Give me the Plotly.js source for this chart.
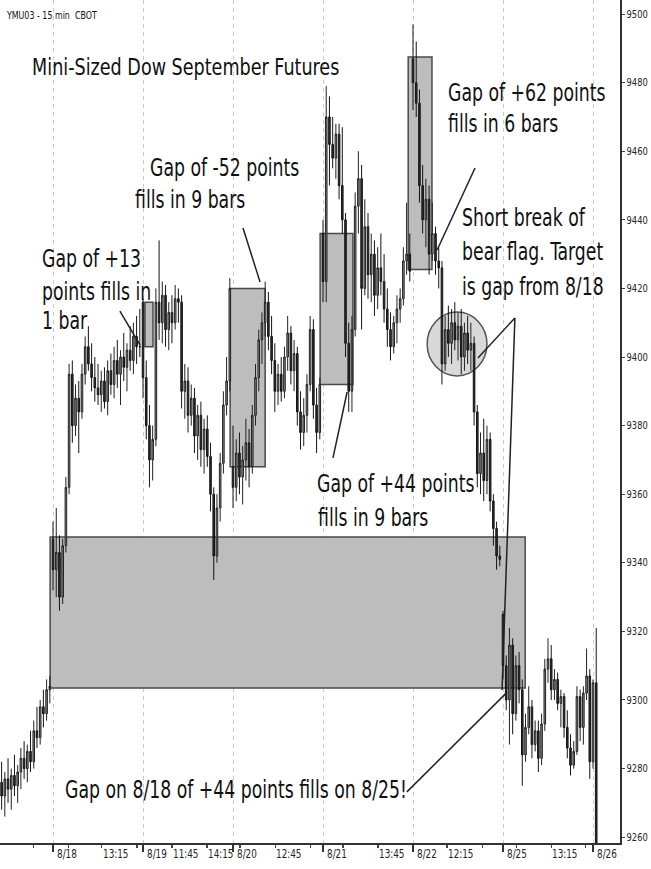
<!DOCTYPE html>
<html>
<head>
<meta charset="utf-8">
<script src="https://cdn.plot.ly/plotly-3.0.1.min.js"></script>
<style>html,body{margin:0;padding:0;background:#fff;}#chart{width:651px;height:869px;}</style>
</head>
<body>
<div id="chart"></div>
<script>
// 15-minute bars, YM U03 (mini-sized Dow), bar index 0 = first bar shown
const openP = [
9276,9272,9277,9274,9278,9275,9279,9283,9280,9285,9282,9291,9289,9298,9296,9303,
9347,9338,9343,9330,9345,9362,9395,9380,9388,9384,9395,9403,9398,9394,9391,9389,9393,9387,9396,9392,9399,9395,9400,9397,9402,9399,9406,9403,
9416,9394,9380,9370,9376,9416,9410,9418,9408,9413,9410,9417,9416,9390,9393,9383,9388,9377,9383,9373,9379,9371,9360,9342,9356,9369,9386,9393,
9368,9362,9372,9365,9370,9375,9368,9383,9394,9405,9410,9416,9406,9399,9390,9395,9390,9400,9407,9396,9401,9384,9378,9383,9392,9408,9386,9378,
9436,9422,9470,9462,9458,9465,9450,9440,9404,9390,9408,9444,9452,9420,9438,9424,9430,9418,9426,9422,9414,9408,9403,9410,9414,9417,9428,9430,
9487,9480,9474,9450,9440,9446,9430,9436,9428,9426,9398,9408,9404,9410,9405,9409,9400,9407,9402,9404,9384,9366,9372,9364,9376,9358,9350,9342,
9325,9310,9300,9316,9296,9310,9303,9284,9292,9298,9287,9291,9283,9293,9309,9312,9303,9306,9299,9301,9292,9286,9281,9285,9301,9292,9302,9307,
9282,9305];
const highP = [
9282,9279,9283,9280,9284,9281,9286,9288,9287,9291,9294,9298,9300,9303,9306,9307,
9352,9356,9348,9347,9365,9398,9399,9392,9393,9398,9406,9409,9404,9400,9398,9396,9397,9399,9401,9403,9405,9402,9407,9404,9409,9410,9412,9414,
9417,9399,9386,9380,9420,9434,9422,9421,9416,9418,9421,9420,9418,9398,9397,9392,9391,9386,9387,9382,9383,9375,9362,9360,9372,9390,9400,9423,
9380,9376,9378,9374,9382,9379,9386,9398,9408,9413,9422,9419,9412,9404,9398,9400,9403,9412,9409,9405,9403,9390,9388,9395,9412,9411,9391,9394,
9440,9479,9476,9470,9468,9468,9467,9442,9410,9412,9448,9460,9456,9446,9442,9436,9434,9432,9436,9430,9420,9413,9412,9418,9420,9432,9445,9436,
9497,9492,9478,9456,9452,9450,9445,9438,9432,9428,9412,9415,9414,9416,9413,9414,9410,9412,9410,9406,9386,9378,9382,9380,9378,9360,9352,9345,
9326,9313,9321,9318,9313,9314,9306,9296,9304,9300,9294,9294,9296,9312,9318,9316,9309,9308,9303,9302,9297,9290,9288,9304,9303,9304,9315,9309,
9306,9321];
const lowP = [
9268,9266,9270,9268,9272,9270,9274,9277,9276,9279,9280,9286,9287,9292,9294,9299,
9332,9330,9326,9328,9343,9360,9375,9377,9372,9382,9392,9396,9390,9387,9386,9384,9385,9383,9389,9388,9391,9386,9393,9390,9396,9395,9398,9400,
9388,9376,9362,9364,9374,9405,9404,9403,9402,9404,9408,9410,9385,9382,9378,9380,9372,9370,9368,9366,9368,9355,9335,9340,9352,9366,9383,9390,
9356,9358,9360,9357,9364,9362,9366,9380,9390,9398,9406,9402,9395,9384,9386,9387,9388,9396,9392,9390,9380,9373,9374,9378,9390,9382,9372,9376,
9416,9416,9450,9455,9452,9446,9436,9400,9384,9384,9406,9436,9408,9418,9417,9416,9412,9414,9418,9410,9403,9399,9401,9404,9410,9415,9424,9422,
9472,9470,9445,9436,9432,9424,9428,9424,9420,9392,9396,9400,9398,9402,9399,9395,9396,9398,9396,9380,9362,9360,9358,9360,9355,9345,9338,9339,
9306,9297,9287,9290,9294,9299,9275,9282,9290,9283,9285,9279,9281,9291,9305,9300,9300,9297,9292,9289,9283,9278,9280,9284,9288,9287,9300,9277,
9280,9250];
const closeP = [
9272,9277,9274,9278,9275,9279,9283,9280,9285,9282,9291,9289,9298,9296,9303,9304,
9338,9343,9330,9345,9362,9395,9380,9388,9384,9395,9403,9398,9394,9391,9389,9393,9387,9396,9392,9399,9395,9400,9397,9402,9399,9406,9403,9403,
9394,9380,9370,9376,9416,9410,9418,9408,9413,9410,9417,9416,9390,9393,9383,9388,9377,9383,9373,9379,9371,9360,9342,9356,9369,9386,9393,9420,
9362,9372,9365,9370,9375,9368,9383,9394,9405,9410,9416,9406,9399,9390,9395,9390,9400,9407,9396,9401,9384,9378,9383,9392,9408,9386,9378,9392,
9422,9470,9462,9458,9465,9450,9440,9404,9390,9408,9444,9452,9420,9438,9424,9430,9418,9426,9422,9414,9408,9403,9410,9414,9417,9428,9430,9425,
9480,9474,9450,9440,9446,9430,9436,9428,9426,9398,9408,9404,9410,9405,9409,9400,9407,9402,9404,9384,9366,9372,9364,9376,9358,9350,9342,9341,
9310,9300,9316,9296,9310,9303,9284,9292,9298,9287,9291,9283,9293,9309,9312,9303,9306,9299,9301,9292,9286,9281,9285,9301,9292,9302,9307,9282,
9305,9252];

// x-axis labels (bar index where each label's tick sits)
const dayLabels   = ["8/18","8/19","8/20","8/21","8/22","8/25","8/26"];
const dayTicks    = [16, 44, 72, 100, 128, 156, 184];
const timeLabels  = ["13:15","11:45","14:15","12:45","13:45","12:15","13:15"];
const timeTicks   = [31.2, 53, 63.9, 85.1, 117.1, 138.6, 171];
const minorTicks  = [9.8,20.7,31.2,42.1,53,63.9,74.2,85.1,96,106.2,117.1,138.6,149.6,160.1,171,181.6];

const FONT = "'Liberation Sans Narrow','Arial Narrow','DejaVu Sans Condensed',Arial,sans-serif";
const PW = 620, PH = 843;
function px(x){return x/PW;}
function py(y){return 1 - y/PH;}

const xs = openP.map((_, i) => i);

const trace = {
  type: 'candlestick', x: xs, open: openP, high: highP, low: lowP, close: closeP,
  increasing: {line: {color: '#222222', width: 1}, fillcolor: '#8a8a8a'},
  decreasing: {line: {color: '#151515', width: 1}, fillcolor: '#2e2e2e'},
  whiskerwidth: 0, hoverinfo: 'skip', showlegend: false
};

const squeeze = [];   // horizontal condensing factor per annotation (render styling)
const annotations = [];
function txt(t, x, y, size, f){
  annotations.push({text: t, xref: 'paper', yref: 'paper', x: px(x), y: py(y), xanchor: 'left', yanchor: 'middle',
          showarrow: false, font: {family: FONT, size: size || 24, color: '#111'}});
  squeeze.push(f || 0.8);
}
txt('YMU03 - 15 min  CBOT', 4, 15, 10.5, 0.84);
txt('Mini-Sized Dow September Futures', 30, 67, 23, 0.85);
txt('Gap of +13', 40, 259);
txt('points fills in', 40, 292);
txt('1 bar', 40, 321);
txt('Gap of -52 points', 148, 168);
txt('fills in 9 bars', 133, 200);
txt('Gap of +62 points', 446, 93);
txt('fills in 6 bars', 446, 124);
txt('Short break of', 460, 218);
txt('bear flag. Target', 460, 252);
txt('is gap from 8/18', 460, 287);
txt('Gap of +44 points', 315, 484);
txt('fills in 9 bars', 316, 518);
txt('Gap on 8/18 of +44 points fills on 8/25!', 63, 790);

dayLabels.forEach((t, k) => { annotations.push({
  text: t, xref: 'x', yref: 'paper', x: dayTicks[k] + 0.6, y: py(854), xanchor: 'left', yanchor: 'middle',
  showarrow: false, font: {family: FONT, size: 12, color: '#222'}}); squeeze.push(0.82); });
timeLabels.forEach((t, k) => { annotations.push({
  text: t, xref: 'x', yref: 'paper', x: timeTicks[k] - 0.4, y: py(854), xanchor: 'left', yanchor: 'middle',
  showarrow: false, font: {family: FONT, size: 12, color: '#222'}}); squeeze.push(0.82); });

const boxStyle = {fillcolor: '#bdbdbd', line: {color: '#4a4a4a', width: 1.5}, layer: 'between'};
function box(x0, x1, y0, y1){ return Object.assign({type: 'rect', xref: 'x', yref: 'y', x0, x1, y0, y1}, boxStyle); }
function seg(x0, y0, x1, y1){ return {type: 'line', xref: 'x', yref: 'y', x0, y0, x1, y1, line: {color: '#222', width: 1.5}, layer: 'above'}; }

const shapes = [
  box(15.1, 162.9, 9303.5, 9347.5),
  box(44.6, 47.1, 9403, 9416),
  box(71.1, 82.0, 9368, 9420),
  box(99.1, 109.3, 9392, 9436),
  box(126.5, 133.9, 9425.5, 9487.5),
  {type: 'circle', xref: 'x', yref: 'y', x0: 132.4, x1: 151.0, y0: 9394.5, y1: 9413.1,
   fillcolor: 'rgba(185,185,185,0.55)', line: {color: '#555', width: 1.5}, layer: 'between'},
  seg(36.8, 9413.4, 43.1, 9403.5),
  seg(75.1, 9437.6, 80.4, 9421.9),
  seg(103.1, 9370.6, 107.5, 9389.8),
  seg(147.3, 9455.1, 135.5, 9431.2),
  seg(148.2, 9399.7, 159.7, 9411.4),
  seg(159.7, 9411.4, 155.7, 9302.9),
  seg(126.1, 9273.2, 157.3, 9302.3)
];

const layout = {
  width: 651, height: 869,
  margin: {l: 0, r: 31, t: 0, b: 26, pad: 0},
  paper_bgcolor: '#fff', plot_bgcolor: '#fff',
  showlegend: false,
  font: {family: FONT, color: '#222'},
  xaxis: {
    type: 'linear', range: [-0.5, 192.4], rangeslider: {visible: false},
    tickmode: 'array', tickvals: dayTicks, ticktext: dayLabels, showticklabels: false,
    ticks: 'outside', ticklen: 7, tickcolor: '#333', tickwidth: 1.2,
    showgrid: true, gridcolor: '#cccccc', griddash: '4px,4px', gridwidth: 1,
    minor: {tickmode: 'array', tickvals: minorTicks, ticks: 'outside', ticklen: 3, tickcolor: '#444', showgrid: false},
    showline: true, linecolor: '#333', linewidth: 2, zeroline: false, fixedrange: true
  },
  yaxis: {
    side: 'right', range: [9258.3, 9504.1], tick0: 9260, dtick: 20,
    ticks: 'outside', ticklen: 3, tickcolor: '#444', tickfont: {family: FONT, size: 10.5, color: '#222'},
    showgrid: false, showline: true, linecolor: '#333', linewidth: 1.5, zeroline: false, fixedrange: true
  },
  shapes: shapes,
  annotations: annotations
};

// condense a text horizontally around its left edge (styling only)
function condense(el, f){
  try {
    const b = el.getBBox();
    if (b.width > 0) {
      const x0 = b.x;
      const prev = el.getAttribute('transform') || '';
      el.setAttribute('transform', prev + ' translate(' + x0.toFixed(2) + ',0) scale(' + f + ',1) translate(' + (-x0).toFixed(2) + ',0)');
    }
  } catch (e) {}
}

Plotly.newPlot('chart', [trace], layout, {displayModeBar: false, staticPlot: true}).then(gd => {
  gd.querySelectorAll('.annotation').forEach(g => {
    const k = +g.getAttribute('data-index');
    const t = g.querySelector('text.annotation-text');
    if (t && squeeze[k]) condense(t, squeeze[k]);
  });
  gd.querySelectorAll('.ytick text').forEach(t => condense(t, 0.88));
});
</script>
</body>
</html>
